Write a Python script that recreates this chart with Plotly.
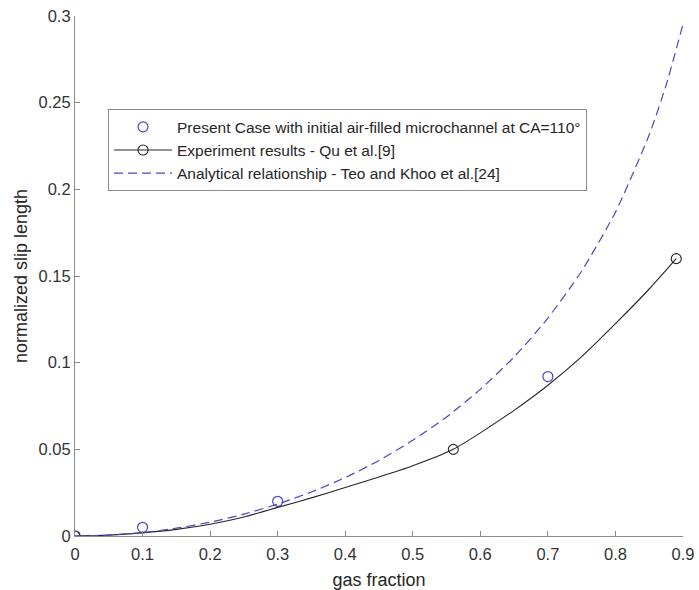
import plotly.graph_objects as go

# ---- data ----
present_x = [0, 0.1, 0.3, 0.7]
present_y = [0, 0.005, 0.02, 0.092]

qu_points_x = [0, 0.56, 0.89]          # experimental points (markers)
qu_line_x = [0, 0.05, 0.1, 0.15, 0.2, 0.25, 0.3, 0.35, 0.4, 0.45, 0.5, 0.56,
             0.6, 0.65, 0.7, 0.75, 0.8, 0.85, 0.89]
qu_line_y = [0, 0.0005, 0.0018, 0.0038, 0.0068, 0.011, 0.0165, 0.022, 0.028, 0.034, 0.0405, 0.05,
             0.0595, 0.0725, 0.087, 0.1035, 0.1225, 0.1425, 0.16]

teo_x = [0, 0.05, 0.1, 0.15, 0.2, 0.25, 0.3, 0.35, 0.4, 0.45, 0.5, 0.55, 0.6,
         0.65, 0.7, 0.75, 0.8, 0.85, 0.875, 0.9]
teo_y = [0, 0.0005, 0.002, 0.0045, 0.008, 0.0126, 0.0184, 0.0254, 0.0337, 0.0436,
         0.0552, 0.0687, 0.0846, 0.1033, 0.1257, 0.1529, 0.1868, 0.2315, 0.2601, 0.2953]

x_ticks = [0, 0.1, 0.2, 0.3, 0.4, 0.5, 0.6, 0.7, 0.8, 0.9]
x_ticktext = ["0", "0.1", "0.2", "0.3", "0.4", "0.5", "0.6", "0.7", "0.8", "0.9"]
y_ticks = [0, 0.05, 0.1, 0.15, 0.2, 0.25, 0.3]
y_ticktext = ["0", "0.05", "0.1", "0.15", "0.2", "0.25", "0.3"]

names = [
    "Present Case with initial air-filled microchannel at CA=110°",
    "Experiment results - Qu et al.[9]",
    "Analytical relationship - Teo and Khoo et al.[24]",
]

BLUE = "#4848c2"
BLACK = "#262626"
AXIS = "#8a8a8a"
FONT = "Liberation Sans, Arial, sans-serif"

qu_marker_colors = [BLACK if x in qu_points_x else "rgba(0,0,0,0)" for x in qu_line_x]

fig = go.Figure()
fig.add_trace(go.Scatter(
    x=present_x, y=present_y, mode="markers", name=names[0],
    marker=dict(symbol="circle-open", size=10, color=BLUE, line=dict(width=1.2)),
))
fig.add_trace(go.Scatter(
    x=qu_line_x, y=qu_line_y, mode="lines+markers", name=names[1],
    line=dict(color=BLACK, width=1.1, shape="spline", smoothing=0.5),
    marker=dict(symbol="circle-open", size=10, color=qu_marker_colors, line=dict(width=1.1)),
))
fig.add_trace(go.Scatter(
    x=teo_x, y=teo_y, mode="lines", name=names[2],
    line=dict(color=BLUE, width=1.2, dash="9px,5px", shape="spline", smoothing=0.6),
))

axis_common = dict(
    showgrid=False, zeroline=False, showline=True, linecolor=AXIS, linewidth=1.2,
    ticks="inside", ticklen=5, tickcolor=AXIS, tickwidth=1.2,
    tickfont=dict(family=FONT, size=16.5, color="#333333"),
    mirror=False, automargin=False,
)

fig.update_layout(
    width=699, height=590,
    margin=dict(l=75, r=16, t=16, b=54),
    paper_bgcolor="white", plot_bgcolor="white",
    font=dict(family=FONT, color="#262626"),
    xaxis=dict(range=[0, 0.9], tickvals=x_ticks, ticktext=x_ticktext, ticklabelstandoff=3,
               title=dict(text="gas fraction", font=dict(size=18, family=FONT, color="#262626"), standoff=11),
               **axis_common),
    yaxis=dict(range=[0, 0.3], tickvals=y_ticks, ticktext=y_ticktext,
               title=dict(text="normalized slip length", font=dict(size=18, family=FONT, color="#262626"), standoff=6),
               **axis_common),
    legend=dict(x=0.054, y=0.821, xanchor="left", yanchor="top",
                bgcolor="white", bordercolor=AXIS, borderwidth=1.2,
                font=dict(family=FONT, size=15.5, color="#262626"),
                itemwidth=58, tracegroupgap=0),
    showlegend=True,
)

fig.write_html("out.html")
